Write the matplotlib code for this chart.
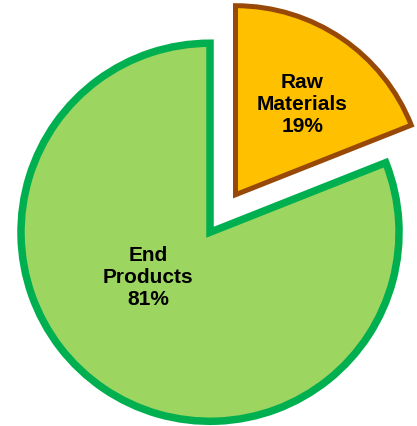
import matplotlib.pyplot as plt

categories = ["Raw\nMaterials", "End\nProducts"]
shares = [19, 81]

fills = ["#FFC000", "#9DD561"]
edges = ["#984807", "#00B050"]
edge_widths = [3.6, 5.4]
explode = [0.24, 0.0]

fig = plt.figure(figsize=(4.17, 4.27), dpi=100)
ax = fig.add_axes([0, 0, 1, 1])

wedges, texts, autotexts = ax.pie(
    shares, explode=explode, colors=fills, startangle=90, counterclock=False,
    radius=1.0, autopct="%d%%", pctdistance=0.6,
    wedgeprops=dict(joinstyle="miter"),
)
for w, ec, lw in zip(wedges, edges, edge_widths):
    w.set_edgecolor(ec)
    w.set_linewidth(lw)

# label text: category name over its percentage
label_pos = [(0.487, 0.683), (-0.328, -0.233)]
for t, name, v, pos in zip(autotexts, categories, shares, label_pos):
    t.set_text(f"{name}\n{v}%")
    t.set_position(pos)
    t.set_fontsize(15)
    t.set_fontweight("bold")
    t.set_family("Liberation Sans")
    t.set_linespacing(1.2)
    t.set_ha("center")
    t.set_va("center")

ax.set_xlim(-1.111, 1.095)
ax.set_ylim(-1.025, 1.234)
ax.set_aspect("equal")
ax.axis("off")

fig.savefig("out.png", dpi=100)
